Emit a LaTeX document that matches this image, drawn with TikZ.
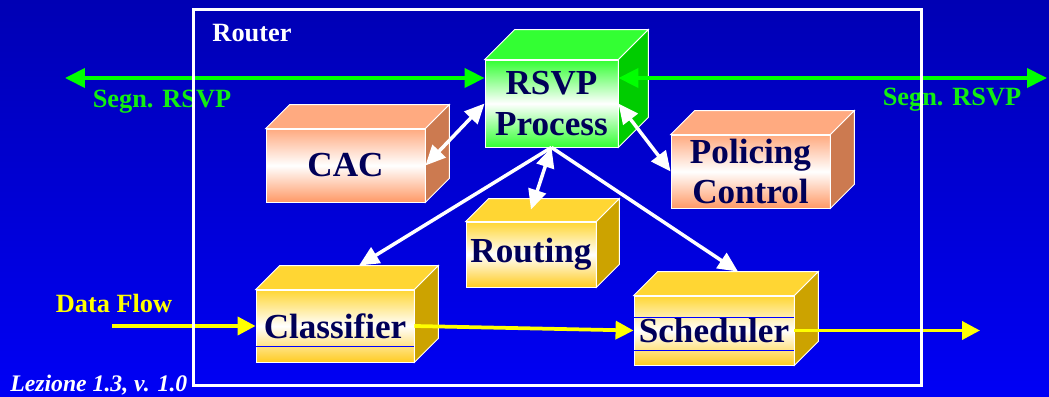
\documentclass[tikz,border=0pt]{standalone}
\usepackage{fontspec}
\setmainfont{Liberation Serif}
\usetikzlibrary{arrows.meta}

\definecolor{bgtop}{HTML}{0000B4}
\definecolor{bgbot}{HTML}{0000F5}
\definecolor{navy}{HTML}{000058}
\definecolor{siggreen}{HTML}{00FF00}
\definecolor{sigtext}{HTML}{11EE11}
\definecolor{flowyellow}{HTML}{FFFF00}
\definecolor{gtop}{HTML}{33FF33}
\definecolor{gside}{HTML}{00CC00}
\definecolor{saltop}{HTML}{FFAA80}
\definecolor{salbot}{HTML}{FF9966}
\definecolor{salside}{HTML}{CC7A50}
\definecolor{ytop}{HTML}{FFD633}
\definecolor{ybot}{HTML}{FFCC22}
\definecolor{yside}{HTML}{CCA300}

\begin{document}
\begin{tikzpicture}[x=0.02cm, y=0.02cm,
    block/.style={draw=white, line width=0.5pt, inner sep=1pt, align=center,
      text=navy, font=\fontsize{20}{23}\selectfont\bfseries},
    greenblock/.style={block, top color=gtop, bottom color=gtop, middle color=white},
    salmonblock/.style={block, top color=saltop, bottom color=salbot, middle color=white},
    yellowblock/.style={block, top color=ytop, bottom color=ybot, middle color=white},
    topface/.style={fill=#1, draw=white, line width=0.5pt},
    sideface/.style={fill=#1, draw=white, line width=0.5pt},
    stripe/.style={draw=blue, line width=0.6pt},
    tag/.style={font=\fontsize{15}{17}\selectfont\bfseries},
    sigtip/.tip={Triangle[length=0.4cm, width=0.38cm]},
    linktip/.tip={Triangle[length=0.4cm, width=0.36cm]},
    flowtip/.tip={Triangle[length=0.36cm, width=0.36cm]},
    sig/.style={draw=siggreen, line width=0.08cm},
    link/.style={draw=white, line width=0.07cm},
    flow/.style={draw=flowyellow, line width=0.075cm},
  ]
  \useasboundingbox (0,0) rectangle (1049,396);
  \fill[top color=bgtop, bottom color=bgbot] (0,0) rectangle (1049,396);

  % RSVP process
  \node[greenblock, minimum width=2.66cm, minimum height=1.74cm] (rsvp) at (551.5,292.5) {RSVP\\Process};
  \filldraw[topface=gtop] (rsvp.north west) -- ++(30,30) -- ([shift={(30,30)}]rsvp.north east) -- (rsvp.north east) -- cycle;
  \filldraw[sideface=gside] (rsvp.north east) -- ++(30,30) -- ([shift={(30,30)}]rsvp.south east) -- (rsvp.south east) -- cycle;

  % CAC
  \node[salmonblock, minimum width=3.18cm, minimum height=1.46cm] (cac) at (345.5,230.5) {CAC};
  \filldraw[topface=saltop] (cac.north west) -- ++(24,24) -- ([shift={(24,24)}]cac.north east) -- (cac.north east) -- cycle;
  \filldraw[sideface=salside] (cac.north east) -- ++(24,24) -- ([shift={(24,24)}]cac.south east) -- (cac.south east) -- cycle;

  % Policing
  \node[salmonblock, minimum width=3.18cm, minimum height=1.46cm] (pol) at (750.5,224.5) {Policing\\Control};
  \filldraw[topface=saltop] (pol.north west) -- ++(24,24) -- ([shift={(24,24)}]pol.north east) -- (pol.north east) -- cycle;
  \filldraw[sideface=salside] (pol.north east) -- ++(24,24) -- ([shift={(24,24)}]pol.south east) -- (pol.south east) -- cycle;

  % Routing
  \node[yellowblock, minimum width=2.6cm, minimum height=1.3cm] (rte) at (531,141.5) {Routing};
  \filldraw[topface=ytop] (rte.north west) -- ++(23,23) -- ([shift={(23,23)}]rte.north east) -- (rte.north east) -- cycle;
  \filldraw[sideface=yside] (rte.north east) -- ++(23,23) -- ([shift={(23,23)}]rte.south east) -- (rte.south east) -- cycle;

  % Classifier
  \node[yellowblock, minimum width=3.16cm, minimum height=1.44cm] (cls) at (335,70) {Classifier};
  \filldraw[topface=ytop] (cls.north west) -- ++(24,24) -- ([shift={(24,24)}]cls.north east) -- (cls.north east) -- cycle;
  \filldraw[sideface=yside] (cls.north east) -- ++(24,24) -- ([shift={(24,24)}]cls.south east) -- (cls.south east) -- cycle;
  \draw[stripe] ([shift={(0,16)}]cls.south west) -- ([shift={(0,16)}]cls.south east);

  % Scheduler
  \node[yellowblock, minimum width=3.2cm, minimum height=1.38cm] (sch) at (714,65.5) {Scheduler};
  \filldraw[topface=ytop] (sch.north west) -- ++(24,24) -- ([shift={(24,24)}]sch.north east) -- (sch.north east) -- cycle;
  \filldraw[sideface=yside] (sch.north east) -- ++(24,24) -- ([shift={(24,24)}]sch.south east) -- (sch.south east) -- cycle;
  \draw[stripe] ([shift={(0,15)}]sch.south west) -- ([shift={(0,15)}]sch.south east);
  \draw[stripe] ([shift={(0,-22)}]sch.north west) -- ([shift={(0,-22)}]sch.north east);

  % Control links
  \coordinate (rtetop) at ([shift={(0,12)}]rte.north);
  \coordinate (clstop) at ([shift={(24,24)}]cls.north);
  \coordinate (schtop) at ([shift={(24,24)}]sch.north);
  \draw[link, linktip-linktip] (cac.east) -- (rsvp.west);
  \draw[link, linktip-linktip] (rsvp.east) -- (pol.west);
  \draw[link, linktip-linktip] (rsvp.south) -- (rtetop);
  \draw[link, -linktip] (rsvp.south) -- (clstop);
  \draw[link, -linktip] (rsvp.south) -- (schtop);

  % Data flow
  \coordinate (dfin) at (112,70);
  \coordinate (dfout) at (980,65.5);
  \draw[flow, -flowtip] (dfin) -- (cls.west);
  \draw[flow, -flowtip] (cls.east) -- (sch.west);
  \draw[flow, -flowtip] (sch.east) -- (dfout);

  % Signalling
  \coordinate (segL) at (65,318);
  \coordinate (segR) at (1047,318);
  \draw[sig, sigtip-sigtip] (segL) -- (segL -| rsvp.west);
  \draw[sig, sigtip-sigtip] (segR -| rsvp.east) -- (segR);

  % Labels
  \node[tag, text=sigtext] (segl) at (162,294) {Segn. RSVP};
  \node[tag, text=sigtext] (segr) at (952,296) {Segn. RSVP};
  \node[tag, text=flowyellow] (dflabel) at (114,93) {Data Flow};
  \node[tag, text=white] (routerlabel) at (252,363) {Router};
  \node[text=white, font=\fontsize{13.5}{15}\selectfont\bfseries\itshape, anchor=base west, inner sep=0pt] (lecture) at (10,5) {Lezione 1.3, v. 1.0};

  % Router frame
  \draw[white, line width=0.06cm] (193,11) rectangle (921,386);
\end{tikzpicture}
\end{document}
